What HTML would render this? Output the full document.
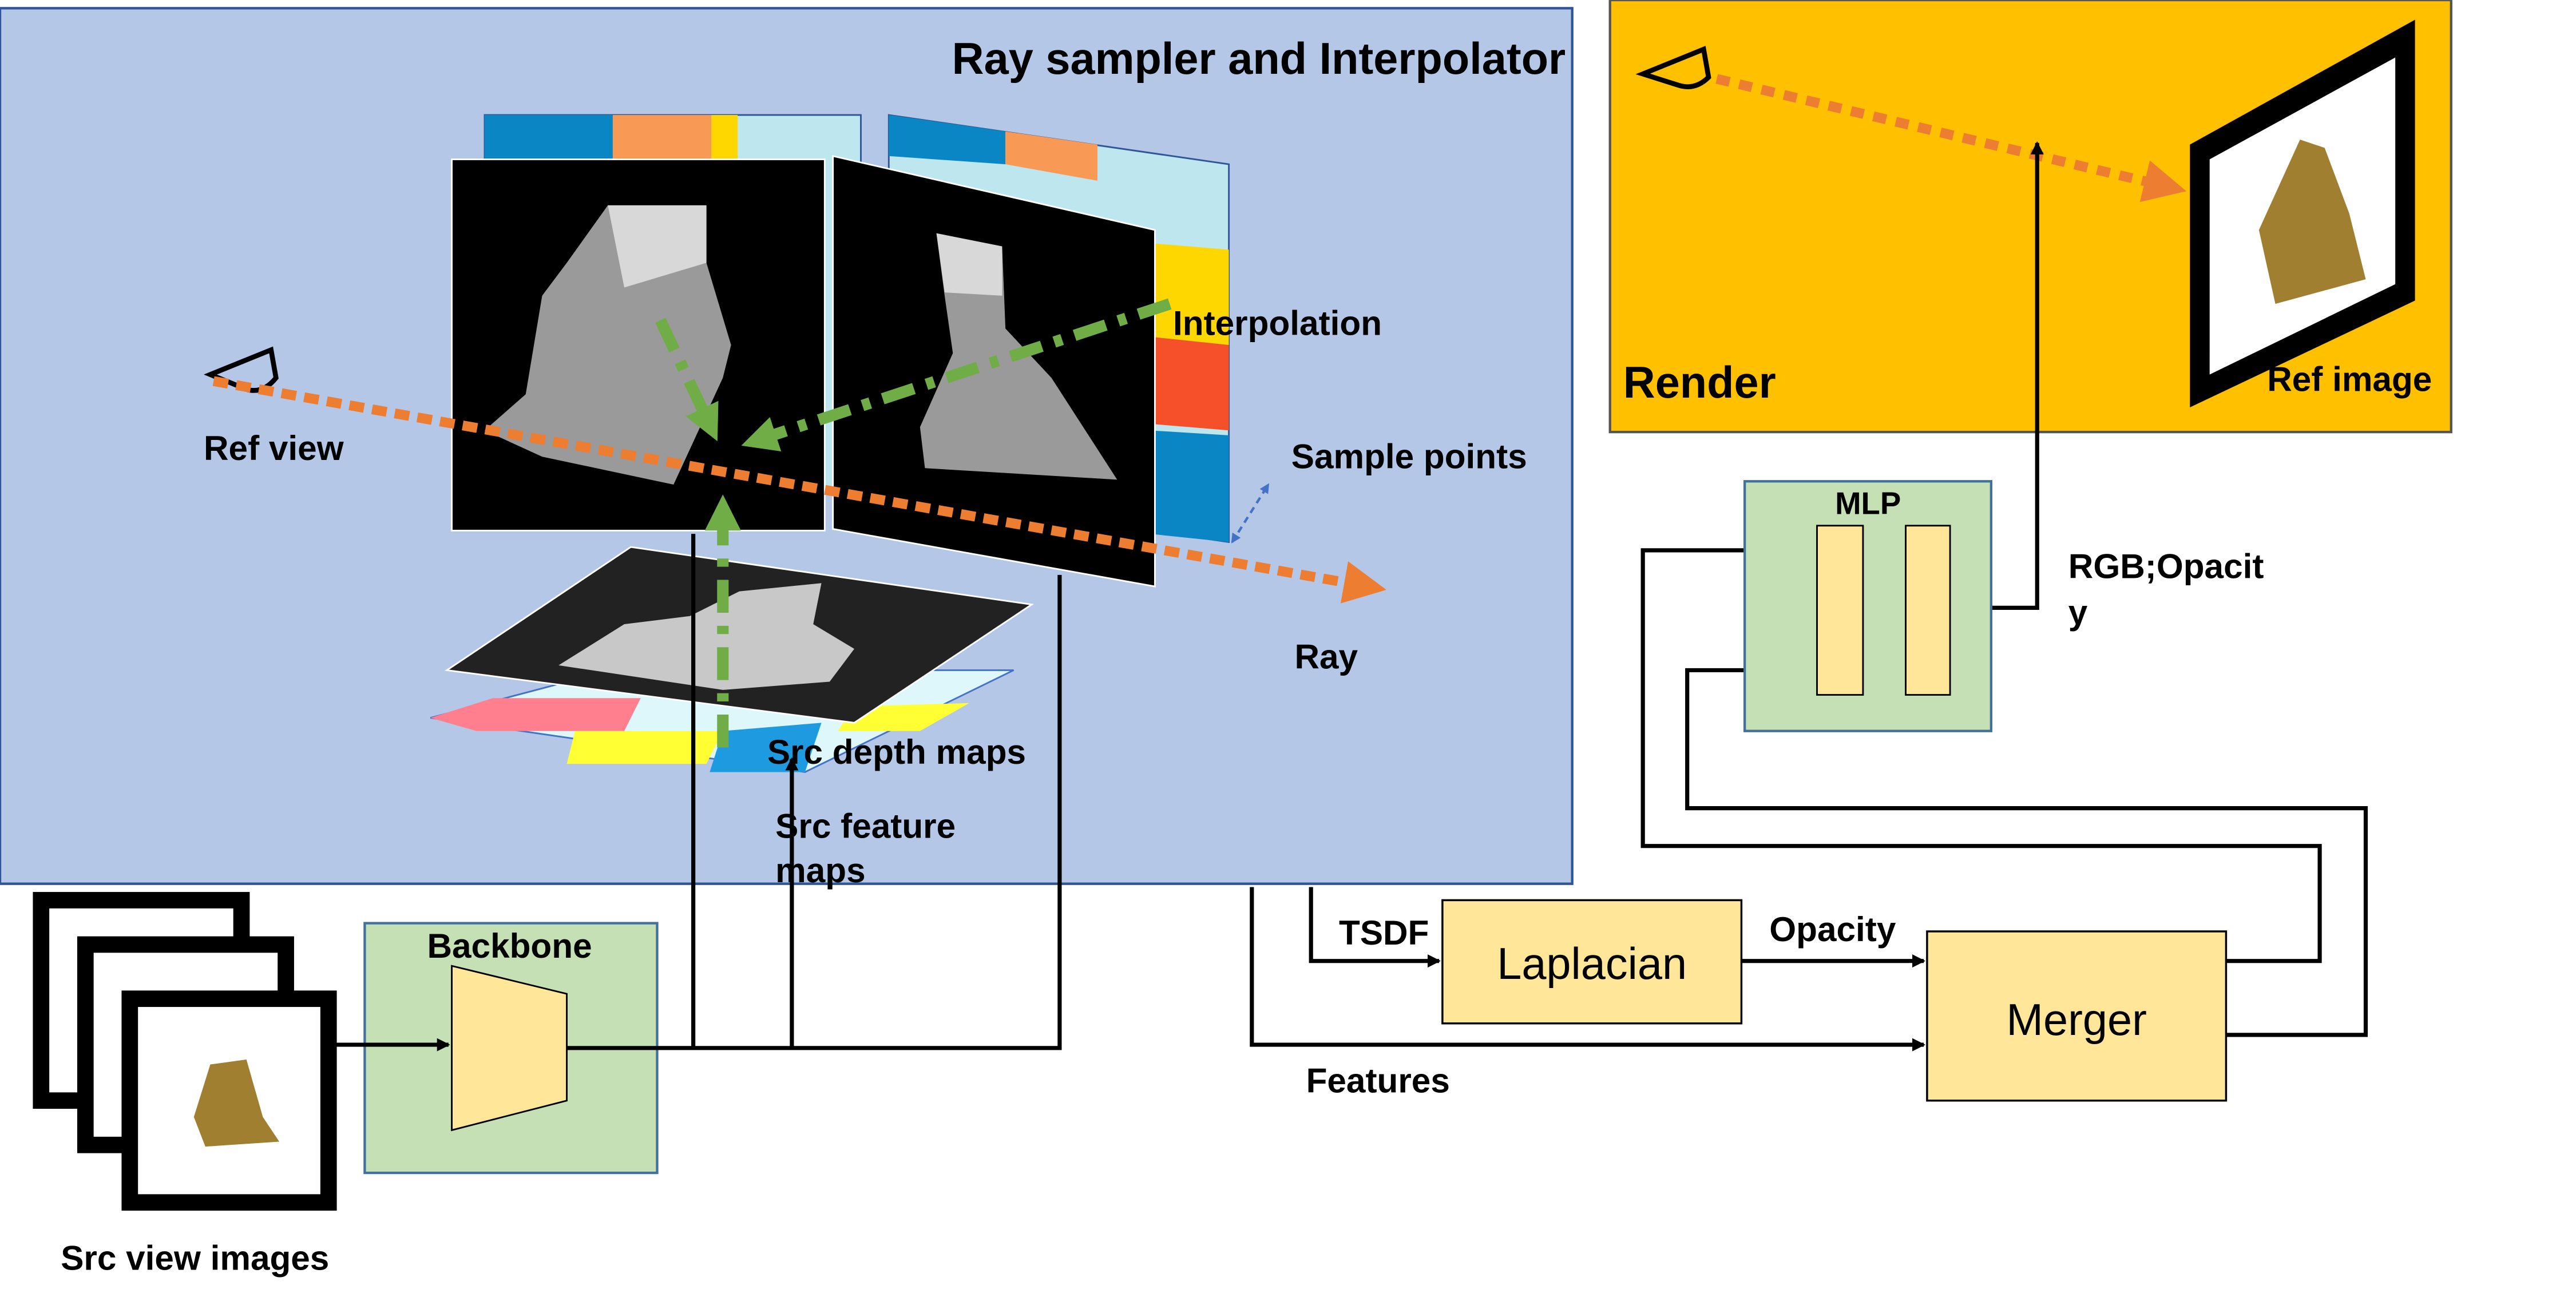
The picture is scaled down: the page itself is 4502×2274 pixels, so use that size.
<!DOCTYPE html>
<html><head><meta charset="utf-8"><style>
html,body{margin:0;padding:0;background:#fff;}
svg{display:block;}
text{font-family:"Liberation Sans",sans-serif;font-weight:bold;fill:#000;}
</style></head><body>
<svg width="4502" height="2274" viewBox="0 0 1568 792" preserveAspectRatio="none">
<defs>
<marker id="ab" markerWidth="8" markerHeight="8" refX="7" refY="4" orient="auto" markerUnits="userSpaceOnUse"><path d="M0,0 L8,4 L0,8 z" fill="#000"/></marker>
<marker id="ao" markerWidth="26" markerHeight="26" refX="20" refY="13" orient="auto" markerUnits="userSpaceOnUse"><path d="M0,0 L26,13 L0,26 z" fill="#ed7d31"/></marker>
<marker id="ag" markerWidth="22" markerHeight="22" refX="18" refY="11" orient="auto" markerUnits="userSpaceOnUse"><path d="M0,0 L22,11 L0,22 z" fill="#70ad47"/></marker>
<marker id="abl" markerWidth="6" markerHeight="6" refX="5" refY="3" orient="auto-start-reverse" markerUnits="userSpaceOnUse"><path d="M0,0 L6,3 L0,6 z" fill="#4472c4"/></marker>
</defs>

<g>
<rect x="0" y="5" width="957" height="533" fill="#b4c7e7" stroke="#2f5597" stroke-width="1.5"/>
<text x="953" y="45" font-size="27" text-anchor="end">Ray sampler and Interpolator</text>
</g>

<g>
<rect x="295" y="70" width="229" height="230" fill="#bde6ee" stroke="#2f5597"/>
<rect x="295" y="70" width="78" height="30" fill="#0b86c4"/>
<rect x="373" y="70" width="60" height="30" fill="#f89a56"/>
<rect x="433" y="70" width="16" height="30" fill="#ffd700"/>
</g>
<g>
<polygon points="541,70 748,100 748,330 541,300" fill="#bde6ee" stroke="#2f5597"/>
<polygon points="541,70 612,80 612,100 541,95" fill="#0b86c4"/>
<polygon points="612,80 668,88 668,110 612,100" fill="#f89a56"/>
<polygon points="700,148 748,152 748,210 700,205" fill="#ffd700"/>
<polygon points="700,205 748,210 748,262 700,258" fill="#f5502a"/>
<polygon points="700,262 748,265 748,330 700,325" fill="#0b86c4"/>
</g>

<g>
<rect x="275" y="97" width="227" height="226" fill="#000" stroke="#fff"/>
<polygon points="370,125 430,125 430,160 445,210 440,230 410,295 330,278 295,262 320,240 330,180 345,160" fill="#9a9a9a"/>
<polygon points="370,125 430,125 430,160 380,175" fill="#d8d8d8"/>
</g>
<g>
<polygon points="507,95 703,140 703,357 507,322" fill="#000" stroke="#fff"/>
<polygon points="570,142 610,150 612,200 640,230 680,292 563,285 560,260 580,215 575,180" fill="#9a9a9a"/>
<polygon points="570,142 610,150 610,180 575,178" fill="#d8d8d8"/>
</g>

<g>
<polygon points="262,437 372,408 617,408 490,470" fill="#ddf7fb" stroke="#4472c4"/>
<polygon points="262,437 300,425 390,425 380,445 290,445" fill="#ff7f8f"/>
<polygon points="350,445 440,445 430,465 345,465" fill="#ffff33"/>
<polygon points="440,445 500,440 490,470 432,470" fill="#1e9be0"/>
<polygon points="520,430 590,428 560,445 510,445" fill="#ffff33"/>
</g>
<g>
<polygon points="272,408 384,333 628,368 520,440" fill="#222" stroke="#fff"/>
<polygon points="340,405 380,380 420,375 450,360 500,355 495,380 520,395 505,415 440,420" fill="#c8c8c8"/>
</g>

<g>
<path d="M128,228 L165,213 L168,230 Q160,240 150,237 Z" fill="none" stroke="#000" stroke-width="3"/>
</g>
<line x1="130" y1="232" x2="838" y2="358" stroke="#ed7d31" stroke-width="6" stroke-dasharray="9,5" marker-end="url(#ao)"/>
<line x1="750" y1="330" x2="772" y2="295" stroke="#4472c4" stroke-width="1.5" stroke-dasharray="4,3" marker-start="url(#abl)" marker-end="url(#abl)"/>

<g stroke="#70ad47" stroke-width="7" stroke-dasharray="20,8,5,8" fill="none">
<line x1="712" y1="185" x2="455" y2="270" marker-end="url(#ag)"/>
<line x1="402" y1="195" x2="435" y2="265" marker-end="url(#ag)"/>
<line x1="440" y1="455" x2="440" y2="305" marker-end="url(#ag)"/>
</g>

<text x="714" y="204" font-size="21">Interpolation</text>
<text x="786" y="285" font-size="21">Sample points</text>
<text x="124" y="280" font-size="21">Ref view</text>
<text x="788" y="407" font-size="21">Ray</text>
<text x="467" y="465" font-size="21">Src depth maps</text>
<text x="472" y="510" font-size="21">Src feature</text>
<text x="472" y="537" font-size="21">maps</text>

<g>
<rect x="980" y="0" width="512" height="263" fill="#ffc000" stroke="#555" stroke-width="1.5"/>
<text x="988" y="242" font-size="27">Render</text>
<path d="M1000,45 L1037,30 L1040,47 Q1032,55 1022,52 Z" fill="none" stroke="#000" stroke-width="3"/>
<line x1="1045" y1="48" x2="1325" y2="115" stroke="#ed7d31" stroke-width="6" stroke-dasharray="8,6" marker-end="url(#ao)"/>
<polygon points="1333,88 1470,12 1470,183 1333,248" fill="#000"/>
<polygon points="1345,97 1458,35 1458,173 1345,228" fill="#fff"/>
<polygon points="1375,140 1400,85 1415,90 1430,130 1440,170 1385,185" fill="#a08030"/>
<text x="1380" y="238" font-size="21">Ref image</text>
</g>

<g>
<rect x="25" y="548" width="122" height="122" fill="#fff" stroke="#000" stroke-width="10"/>
<rect x="52" y="575" width="122" height="122" fill="#fff" stroke="#000" stroke-width="10"/>
<rect x="79" y="608" width="121" height="124" fill="#fff" stroke="#000" stroke-width="10"/>
<polygon points="118,680 128,648 150,645 160,680 170,695 125,698" fill="#a08030"/>
<text x="37" y="773" font-size="21">Src view images</text>
</g>

<g>
<rect x="222" y="562" width="178" height="152" fill="#c5e0b4" stroke="#41719c" stroke-width="1.5"/>
<polygon points="275,588 345,605 345,670 275,688" fill="#ffe699" stroke="#000"/>
<text x="260" y="583" font-size="21">Backbone</text>
</g>

<g stroke="#000" stroke-width="2.5" fill="none">
<line x1="200" y1="636" x2="273" y2="636" marker-end="url(#ab)"/>
<polyline points="345,638 645,638 645,350"/>
<line x1="422" y1="638" x2="422" y2="325"/>
<line x1="482" y1="638" x2="482" y2="462" marker-end="url(#ab)"/>
<polyline points="762,540 762,636 1171,636" marker-end="url(#ab)"/>
<polyline points="798,540 798,585 876,585" marker-end="url(#ab)"/>
<line x1="1060" y1="585" x2="1171" y2="585" marker-end="url(#ab)"/>
<polyline points="1355,585 1412,585 1412,515 1000,515 1000,335 1104,335" marker-end="url(#ab)"/>
<polyline points="1355,630 1440,630 1440,492 1027,492 1027,408 1104,408" marker-end="url(#ab)"/>
<line x1="1134" y1="372" x2="1160" y2="372"/>
<polyline points="1187,370 1240,370 1240,87" marker-end="url(#ab)"/>
</g>

<g>
<rect x="1062" y="293" width="150" height="152" fill="#c5e0b4" stroke="#41719c" stroke-width="1.5"/>
<rect x="1106" y="320" width="28" height="103" fill="#ffe699" stroke="#000"/>
<rect x="1160" y="320" width="27" height="103" fill="#ffe699" stroke="#000"/>
<text x="1117" y="313" font-size="19">MLP</text>
</g>
<text x="1259" y="352" font-size="21">RGB;Opacit</text>
<text x="1259" y="380" font-size="21">y</text>

<g>
<rect x="878" y="548" width="182" height="75" fill="#ffe699" stroke="#000" stroke-width="1.2"/>
<text x="969" y="596" font-size="27" text-anchor="middle" style="font-weight:normal">Laplacian</text>
</g>
<g>
<rect x="1173" y="567" width="182" height="103" fill="#ffe699" stroke="#000" stroke-width="1.2"/>
<text x="1264" y="630" font-size="27" text-anchor="middle" style="font-weight:normal">Merger</text>
</g>
<text x="815" y="575" font-size="21">TSDF</text>
<text x="1077" y="573" font-size="21">Opacity</text>
<text x="795" y="665" font-size="21">Features</text>
</svg>
</body></html>
